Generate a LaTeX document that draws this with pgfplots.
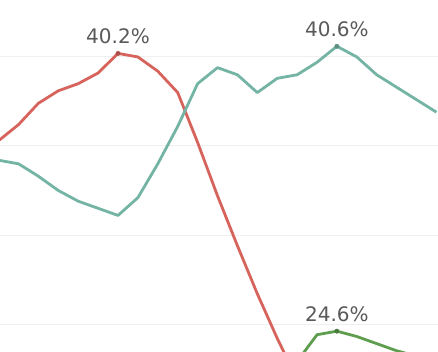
\documentclass[border=0pt]{standalone}
\usepackage{pgfplots}
\pgfplotsset{compat=1.18}
\usepackage{fontspec}
\setmainfont{DejaVu Sans}
\definecolor{cred}{HTML}{D6635C}
\definecolor{cteal}{HTML}{74B4A4}
\definecolor{cgreen}{HTML}{5E9E4E}
\definecolor{cgrid}{HTML}{EFEFEF}
\definecolor{ctext}{HTML}{595959}
\begin{document}
\begin{tikzpicture}
\begin{axis}[
  name=ax,
  scale only axis, width=438pt, height=352pt,
  xmin=0.07, xmax=22.08, ymin=23.43, ymax=43.2,
  axis line style={draw=none},
  xtick=\empty, ytick={25,30,35,40}, yticklabels={},
  major tick length=0pt,
  ymajorgrids, grid style={cgrid, line width=1pt},
  clip=true,
]
\addplot[cred, line width=2.8pt, line join=round] coordinates {
(0,35.3)(1,36.2)(2,37.4)(3,38.1)(4,38.5)(5,39.1)(6,40.2)(7,40.0)(8,39.2)(9,38.0)
(10,35.2)(11,32.2)(12,29.4)(13,26.7)(14,24.2)(15,21.9)(16,20.5)(17,19.8)};
\addplot[cteal, line width=2.8pt, line join=round] coordinates {
(0,34.2)(1,34.0)(2,33.3)(3,32.5)(4,31.9)(5,31.5)(6,31.1)(7,32.1)(8,34.0)(9,36.1)
(10,38.5)(11,39.4)(12,39.0)(13,38.0)(14,38.8)(15,39.0)(16,39.7)(17,40.6)(18,40.0)
(19,39.0)(20,38.3)(21,37.6)(22,36.9)};
\addplot[cgreen, line width=2.8pt, line join=round] coordinates {
(13,19.5)(14,21.0)(15,22.9)(16,24.4)(17,24.6)(18,24.3)(19,23.9)(20,23.5)(21,23.2)(22,22.9)};
\addplot[only marks, mark=*, mark size=2.2pt, draw=cred!80!black, fill=cred!80!black,
  nodes near coords, point meta=explicit symbolic,
  every node near coord/.append style={font=\fontsize{20}{24}\selectfont, text=ctext, anchor=south, yshift=6pt}]
  coordinates {(6,40.2)[40.2\%]};
\addplot[only marks, mark=*, mark size=2.2pt, draw=cteal!80!black, fill=cteal!80!black,
  nodes near coords, point meta=explicit symbolic,
  every node near coord/.append style={font=\fontsize{20}{24}\selectfont, text=ctext, anchor=south, yshift=6pt}]
  coordinates {(17,40.6)[40.6\%]};
\addplot[only marks, mark=*, mark size=2.2pt, draw=cgreen!80!black, fill=cgreen!80!black,
  nodes near coords, point meta=explicit symbolic,
  every node near coord/.append style={font=\fontsize{20}{24}\selectfont, text=ctext, anchor=south, yshift=6pt}]
  coordinates {(17,24.6)[24.6\%]};
\end{axis}
\pgfresetboundingbox
\useasboundingbox (ax.south west) rectangle (ax.north east);
\end{tikzpicture}
\end{document}
